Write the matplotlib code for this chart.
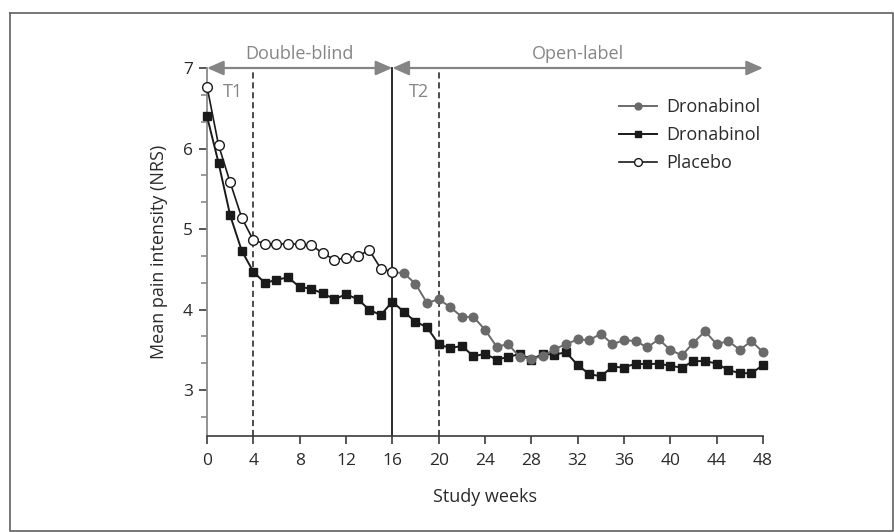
import matplotlib
matplotlib.use("Agg")
import matplotlib.pyplot as plt
from matplotlib.ticker import MultipleLocator
from matplotlib.lines import Line2D

# ---------------- data ----------------
weeks_placebo = list(range(0, 17))
placebo = [6.77, 6.04, 5.58, 5.14, 4.86, 4.82, 4.81, 4.82, 4.81, 4.80,
           4.70, 4.62, 4.64, 4.66, 4.74, 4.51, 4.47]

weeks_sq = list(range(0, 49))
dronabinol_sq = [6.40, 5.82, 5.17, 4.73, 4.47, 4.33, 4.37, 4.40, 4.28, 4.26,
                 4.20, 4.13, 4.19, 4.13, 4.00, 3.93, 4.10, 3.97, 3.85, 3.78,
                 3.57, 3.52, 3.55, 3.42, 3.45, 3.38, 3.41, 3.45, 3.38, 3.45,
                 3.44, 3.47, 3.31, 3.20, 3.17, 3.29, 3.28, 3.33, 3.32, 3.33,
                 3.30, 3.28, 3.36, 3.36, 3.33, 3.25, 3.21, 3.21, 3.31]

weeks_gray = list(range(16, 49))
dronabinol_gray = [4.47, 4.45, 4.32, 4.08, 4.13, 4.03, 3.91, 3.91, 3.75, 3.54,
                   3.57, 3.41, 3.39, 3.42, 3.51, 3.57, 3.63, 3.62, 3.70, 3.57,
                   3.62, 3.61, 3.53, 3.63, 3.50, 3.43, 3.59, 3.73, 3.57, 3.61,
                   3.50, 3.61, 3.47]

x_ticks = list(range(0, 49, 4))
y_ticks = [3, 4, 5, 6, 7]
phase_lines_dashed = [4, 20]
phase_line_solid = 16
labels = ["Dronabinol", "Dronabinol", "Placebo"]

# ---------------- style ----------------
plt.rcParams['font.family'] = ['Open Sans', 'DejaVu Sans']
W, H = 895, 532
fig = plt.figure(figsize=(W / 100, H / 100), dpi=100)

# outer frame (left/top inset, right/bottom at the image edge)
frame_kw = dict(transform=fig.transFigure, color='#6b6b6b', linewidth=1.3)
x0, y0, x1, y1 = 10.5 / W, 1 - 12.5 / H, 893.5 / W, 1 - 530.5 / H
fig.lines.append(Line2D([x0, x1, x1, x0, x0], [y0, y0, y1, y1, y0], **frame_kw))

ax = fig.add_axes([207 / W, 1 - 436 / H, (763 - 207) / W, (436 - 68) / H])
ax.set_xlim(0, 48)
ax.set_ylim(2.43, 7.0)

gray = '#6a6a6a'
anno_gray = '#858585'

# phase lines
for xv in phase_lines_dashed:
    ax.plot([xv, xv], [2.43, 7.0], color='#1a1a1a', lw=1.1,
            linestyle=(0, (4, 2.5)), zorder=1, clip_on=False)
ax.plot([phase_line_solid] * 2, [2.43, 7.0], color='#1a1a1a', lw=1.3, zorder=1,
        clip_on=False)

# series
l_gray, = ax.plot(weeks_gray, dronabinol_gray, color=gray, lw=1.4, marker='o',
                  markersize=6.2, markerfacecolor=gray, markeredgecolor=gray,
                  zorder=4, clip_on=False)
l_sq, = ax.plot(weeks_sq, dronabinol_sq, color='#1a1a1a', lw=1.4, marker='s',
                markersize=6.2, markerfacecolor='#1a1a1a', markeredgecolor='#1a1a1a',
                zorder=3, clip_on=False)
l_pl, = ax.plot(weeks_placebo, placebo, color='#1a1a1a', lw=1.2, marker='o',
                markersize=7, markerfacecolor='white', markeredgecolor='#1a1a1a',
                markeredgewidth=1.0, zorder=5, clip_on=False)

# arrows for phases
arrow_kw = dict(arrowstyle='<|-|>,head_length=0.5,head_width=0.22',
                color=anno_gray, lw=1.6, shrinkA=0, shrinkB=0, mutation_scale=20)
ax.annotate('', xy=(0, 7.0), xytext=(16, 7.0), arrowprops=arrow_kw,
            annotation_clip=False)
ax.annotate('', xy=(16, 7.0), xytext=(48, 7.0), arrowprops=arrow_kw,
            annotation_clip=False)
ax.text(8, 7.17, 'Double-blind', ha='center', va='center', color=anno_gray,
        fontsize=13, clip_on=False)
ax.text(32, 7.17, 'Open-label', ha='center', va='center', color=anno_gray,
        fontsize=13, clip_on=False)
ax.text(1.4, 6.70, 'T1', ha='left', va='center', color=anno_gray, fontsize=13)
ax.text(17.4, 6.70, 'T2', ha='left', va='center', color=anno_gray, fontsize=13)

# axes styling
for s in ['top', 'right']:
    ax.spines[s].set_visible(False)
ax.spines['left'].set_color('#8a8a8a')
ax.spines['left'].set_linewidth(1.3)
ax.spines['bottom'].set_color('#3a3a3a')
ax.spines['bottom'].set_linewidth(1.2)

ax.set_xticks(x_ticks)
ax.set_yticks(y_ticks)
ax.yaxis.set_minor_locator(MultipleLocator(1 / 3))
ax.tick_params(axis='x', direction='out', length=6, width=1.2, color='#3a3a3a',
               labelsize=12.5, labelcolor='#2a2a2a', pad=6)
ax.tick_params(axis='y', which='major', direction='out', length=6, width=1.2,
               color='#3a3a3a', labelsize=12.5, labelcolor='#2a2a2a', pad=4)
ax.tick_params(axis='y', which='minor', direction='out', length=4, width=1.2,
               color='#8a8a8a')

ax.set_xlabel('Study weeks', fontsize=13, color='#2a2a2a', labelpad=14)
ax.set_ylabel('Mean pain intensity (NRS)', fontsize=13, color='#2a2a2a', labelpad=11)

leg = ax.legend([l_gray, l_sq, l_pl], labels, loc='upper left',
                bbox_to_anchor=(619 / W, 1 - 98 / H), bbox_transform=fig.transFigure,
                frameon=False, fontsize=13, handlelength=2.1, handletextpad=0.5,
                labelspacing=0.55, borderpad=0, borderaxespad=0, markerscale=0.8)
for t in leg.get_texts():
    t.set_color('#2a2a2a')

fig.savefig('out.png', dpi=100)
